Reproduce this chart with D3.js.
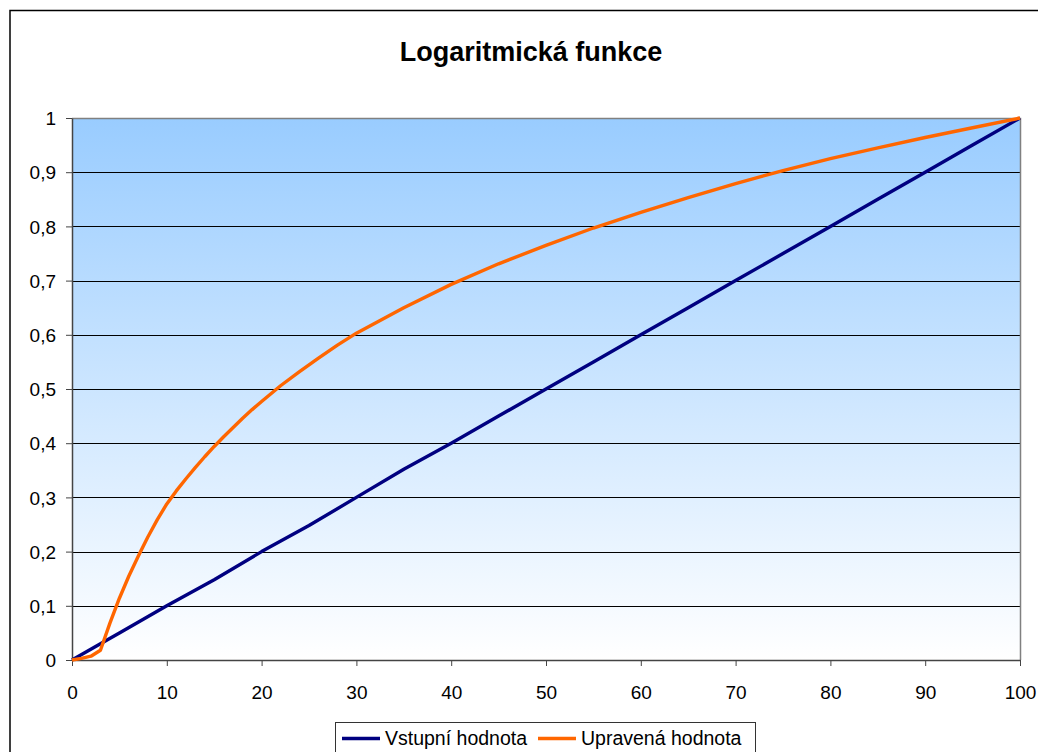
<!DOCTYPE html>
<html><head><meta charset="utf-8">
<script src="https://cdn.jsdelivr.net/npm/d3@7/dist/d3.min.js"></script>
<style>body{margin:0;background:#fff}svg{display:block;font-family:"Liberation Sans",Arial,sans-serif}</style>
</head><body>
<svg id="c" width="1038" height="752"></svg>
<script>
const title = "Logaritmická funkce";
const seriesNames = ["Vstupní hodnota", "Upravená hodnota"];
const blueX = [0,3,5,10,15,20,25,30,35,40,45,50,55,60,65,70,75,80,85,90,95,100];
const blueY = [0,0.03,0.05,0.1,0.148,0.2,0.248,0.3,0.352,0.4,0.45,0.5,0.55,0.6,0.65,0.7,0.75,0.8,0.85,0.9,0.95,1];
const orangeX = [0,1,2,3,4,5,6,7,8,9,10,11,12,13,14,15,16,17,18,19,20,22,24,26,28,30,35,40,45,50,55,60,65,70,75,80,85,90,95,100];
const orangeY = [0,0.003,0.007,0.018,0.068,0.114,0.155,0.192,0.227,0.259,0.288,0.312,0.334,0.355,0.375,0.394,0.412,0.429,0.446,0.462,0.477,0.506,0.532,0.557,0.581,0.603,0.650,0.693,0.731,0.765,0.797,0.826,0.853,0.879,0.903,0.925,0.945,0.964,0.982,1];
const xTicks = [0,10,20,30,40,50,60,70,80,90,100];
const yTicks = [0,0.1,0.2,0.3,0.4,0.5,0.6,0.7,0.8,0.9,1];
const yTickLabels = ["0","0,1","0,2","0,3","0,4","0,5","0,6","0,7","0,8","0,9","1"];

const svg = d3.select("#c");
const L = 72, R = 1020, T = 118, B = 660;
const x = d3.scaleLinear().domain([0,100]).range([L,R]);
const y = d3.scaleLinear().domain([0,1]).range([B,T]);

// outer frame
svg.append("rect").attr("x",10).attr("y",10.5).attr("width",1040).attr("height",760)
  .attr("fill","#fff").attr("stroke","#000").attr("stroke-width",1.5);

// gradient
const defs = svg.append("defs");
const g = defs.append("linearGradient").attr("id","bg").attr("x1",0).attr("y1",0).attr("x2",0).attr("y2",1);
g.append("stop").attr("offset","0%").attr("stop-color","#99CCFF");
g.append("stop").attr("offset","100%").attr("stop-color","#FFFFFF");
svg.append("rect").attr("x",L).attr("y",T).attr("width",R-L).attr("height",B-T).attr("fill","url(#bg)");

// gridlines
svg.append("g").selectAll("line").data(yTicks.slice(1,-1)).join("line")
  .attr("x1",L).attr("x2",R).attr("y1",d=>Math.round(y(d))+0.5).attr("y2",d=>Math.round(y(d))+0.5)
  .attr("stroke","#000").attr("stroke-width",1);
// plot border top/right
svg.append("path").attr("d",`M${L},${T+0.5}H${R+0.5}V${B}`).attr("fill","none").attr("stroke","#808080").attr("stroke-width",1.5);

// axes
const xAxis = d3.axisBottom(x).tickValues(xTicks).tickSize(6).tickSizeOuter(0).tickFormat(d3.format("d"));
const gx = svg.append("g").attr("transform",`translate(0,${B})`).call(xAxis);
gx.select(".domain").attr("stroke","#444").attr("stroke-width",1.5);
gx.selectAll(".tick line").attr("stroke","#444");
gx.selectAll("text").attr("font-size",19).attr("fill","#000").attr("dy",null).attr("y",39).attr("font-family","Liberation Sans, Arial, sans-serif");

const yAxis = d3.axisLeft(y).tickValues(yTicks).tickSize(6).tickSizeOuter(0).tickFormat((d,i)=>yTickLabels[i]);
const gy = svg.append("g").attr("transform",`translate(${L},0)`).call(yAxis);
gy.select(".domain").attr("stroke","#444").attr("stroke-width",1.5);
gy.selectAll(".tick line").attr("stroke","#444");
gy.selectAll("text").attr("font-size",19).attr("fill","#000").attr("x",-16).attr("dy","0.35em").attr("font-family","Liberation Sans, Arial, sans-serif");

// lines
const line = d3.line().x(d=>x(d[0])).y(d=>y(d[1]));
svg.append("path").datum(blueX.map((v,i)=>[v,blueY[i]])).attr("d",line)
  .attr("fill","none").attr("stroke","#000080").attr("stroke-width",3.4).attr("stroke-linejoin","round");
svg.append("path").datum(orangeX.map((v,i)=>[v,orangeY[i]])).attr("d",line)
  .attr("fill","none").attr("stroke","#FF6600").attr("stroke-width",3.4).attr("stroke-linejoin","round");

// title
svg.append("text").attr("x",531).attr("y",61).attr("text-anchor","middle")
  .attr("font-size",27).attr("font-weight","bold").text(title);

// legend
svg.append("rect").attr("x",335.5).attr("y",722.5).attr("width",420).attr("height",40)
  .attr("fill","#fff").attr("stroke","#333").attr("stroke-width",1);
const colors = ["#000080","#FF6600"];
const lx = [342, 538];
seriesNames.forEach((n,i)=>{
  svg.append("line").attr("x1",lx[i]).attr("x2",lx[i]+38).attr("y1",738.5).attr("y2",738.5)
    .attr("stroke",colors[i]).attr("stroke-width",3.5);
  svg.append("text").attr("x",lx[i]+43).attr("y",745).attr("font-size",19.5).text(n);
});
</script>
</body></html>
